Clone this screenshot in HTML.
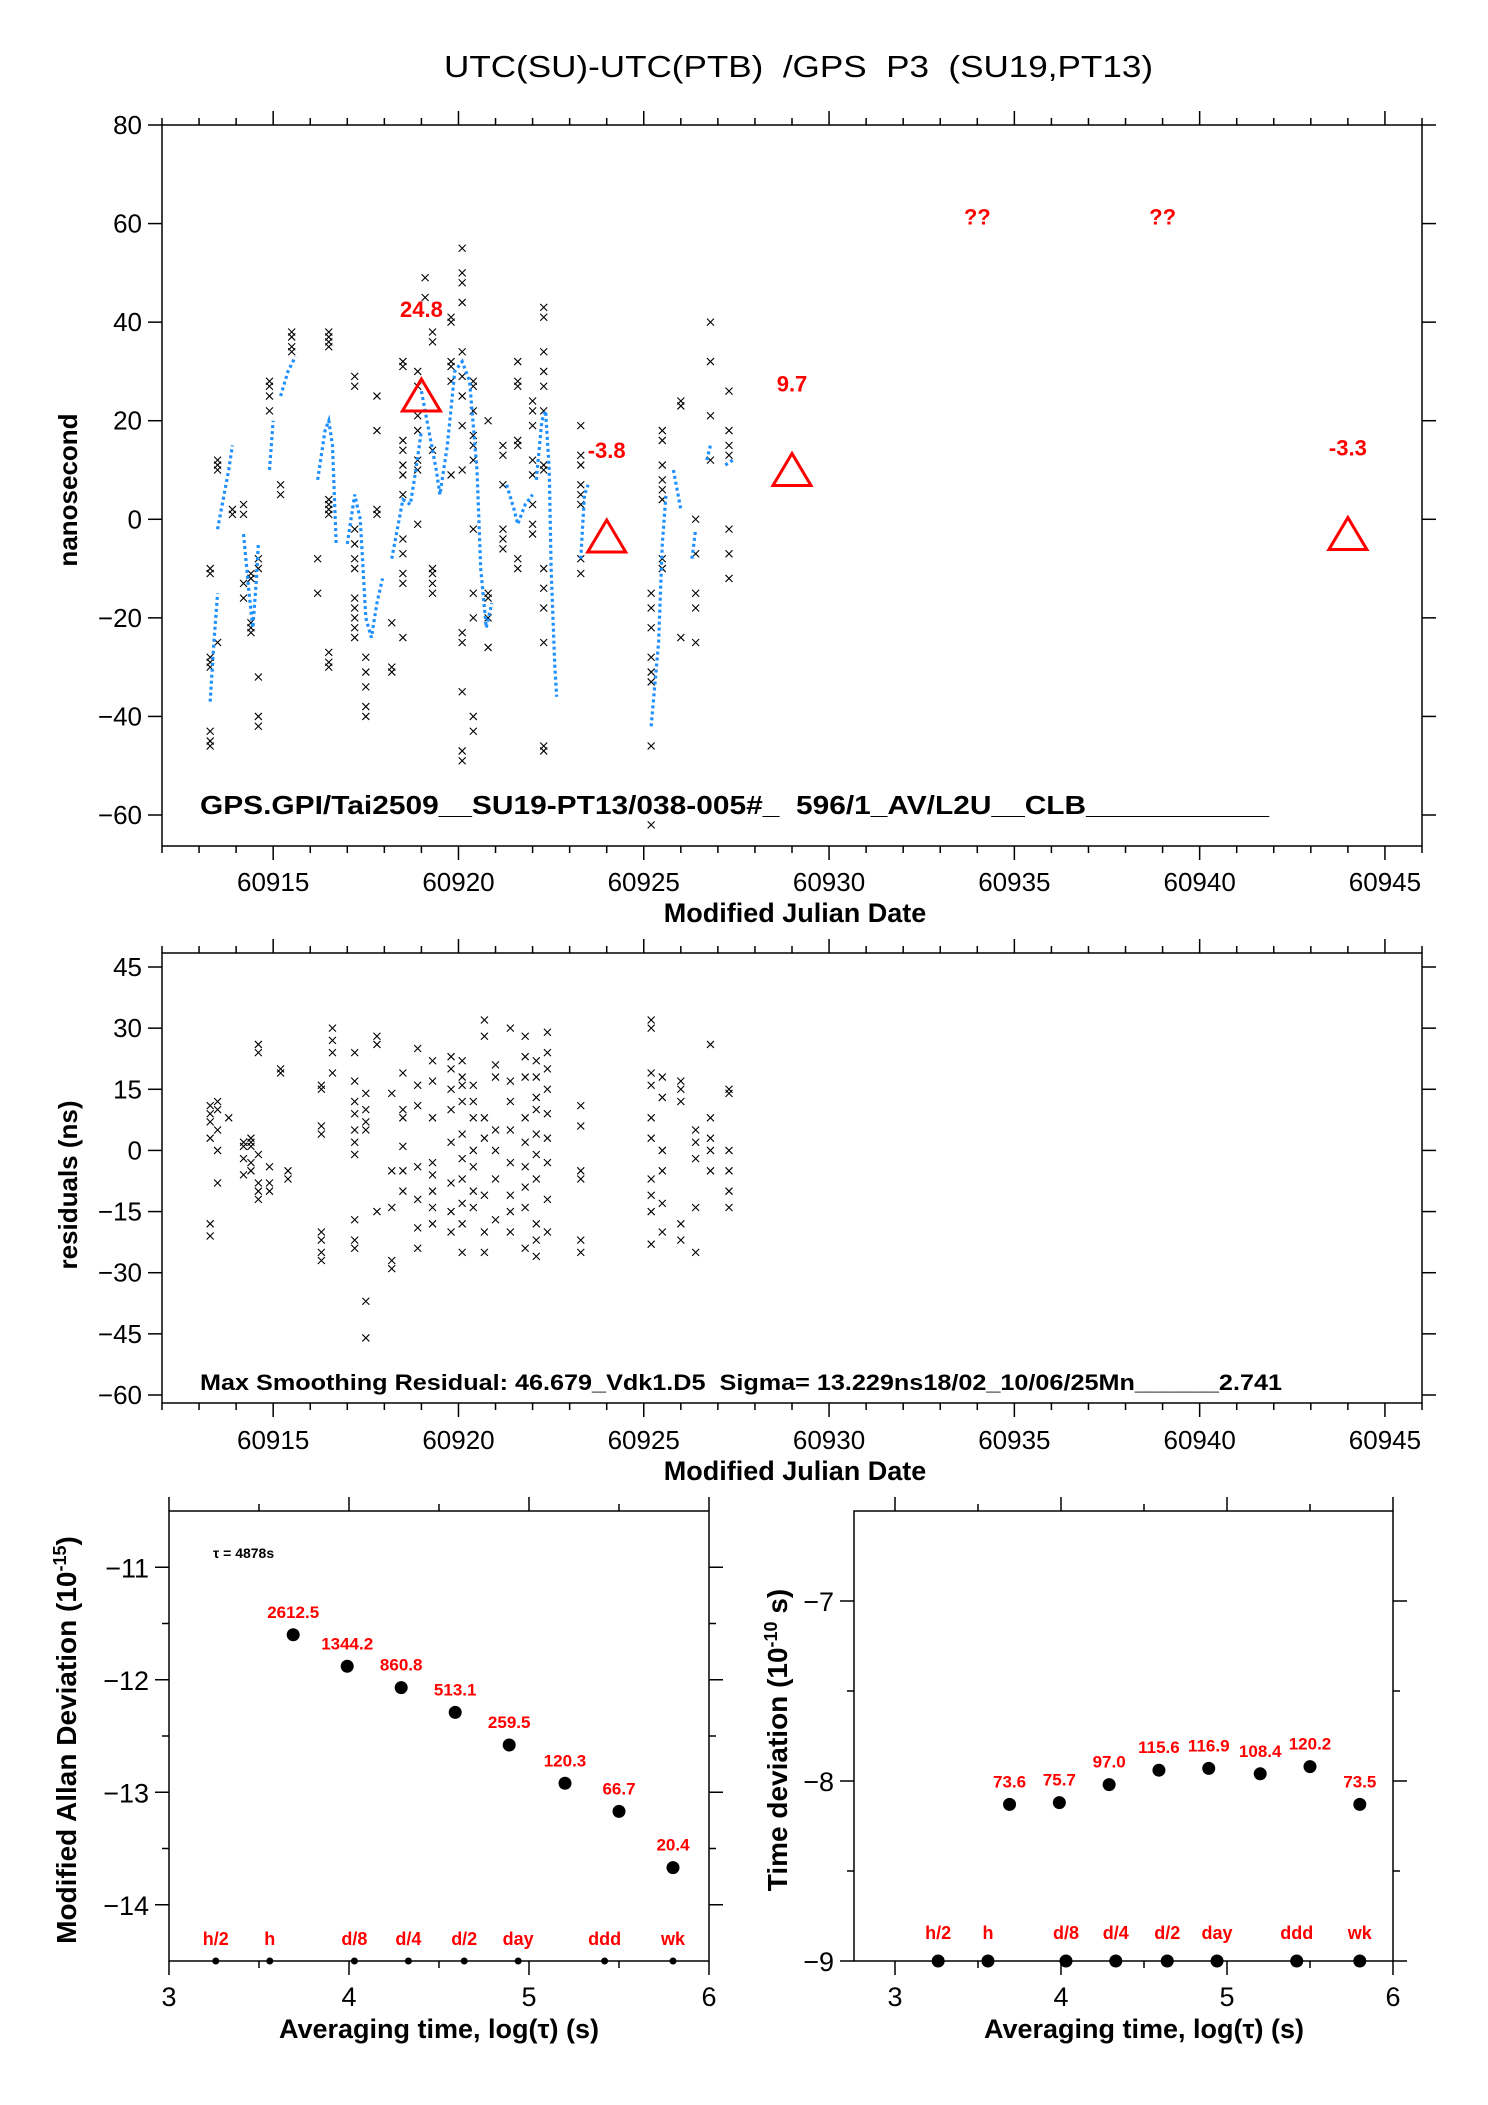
<!DOCTYPE html>
<html><head><meta charset="utf-8"><style>
html,body{margin:0;padding:0;background:#fff;}
svg{display:block;font-family:"Liberation Sans",sans-serif;}
svg text{white-space:pre;}
</style></head><body>
<svg id="fig" width="1488" height="2105" viewBox="0 0 1488 2105" xmlns="http://www.w3.org/2000/svg" xml:space="preserve">
<text x="444" y="77" font-size="31" textLength="709" lengthAdjust="spacingAndGlyphs" fill="#000">UTC(SU)-UTC(PTB)  /GPS  P3  (SU19,PT13)</text>
<g id="top"></g>
<g id="res"></g>
<g id="mdev"></g>
<g id="tdev"></g>
</svg>
<script>
// ---------- DATA ----------
const crossMjd = [60913.3,60913.5,60913.9,60914.2,60914.4,60914.6,60914.9,60915.2,60915.5,60916.2,60916.5,60917.2,60917.5,60917.8,60918.2,60918.5,60918.9,60919.1,60919.3,60919.8,60920.1,60920.4,60920.8,60921.2,60921.6,60922.0,60922.3,60923.3,60925.2,60925.5,60926.0,60926.4,60926.8,60927.3];
const crossVals = [
 [-10,-11,-28,-29,-30,-43,-45,-46],[12,11,10,-25],[1,2],[3,1,-13,-16],[-11,-12,-22,-23,-21],
 [-8,-10,-40,-42,-32],[25,28,27,22],[5,7],[38,37,35,34],[-8,-15],
 [35,36,38,37,3,2,1,4,-27,-29,-30],[29,27,-2,-5,-8,-10,-16,-18,-20,-22,-24],[-28,-31,-34,-38,-40],[25,18,1,2],[-21,-30,-31],
 [31,32,16,14,11,9,5,-4,-7,-11,-13,-24],[30,27,21,18,10,12,-1],[49,45],[38,36,14,-10,-11,-13,-15],[40,41,32,31,28,9],
 [55,50,48,44,34,29,25,19,10,-23,-25,-35,-47,-49],[28,27,22,17,15,12,-2,-15,-20,-40,-43],[20,-15,-16,-20,-26],[15,13,7,-2,-4,-6],[32,28,27,16,15,-8,-10],
 [24,22,19,12,9,3,-1,-3],[43,41,34,30,27,22,11,10,-10,-14,-18,-25,-46,-47],[19,13,11,7,5,3,-8,-11],[-15,-18,-22,-28,-31,-33,-46,-62],[18,16,11,8,6,4,-8,-10],
 [24,23,-24],[0,-7,-15,-18,-25],[40,32,21,12],[18,15,13,-7,-2,26,-12]];
const smoothSegs = [
 [[60913.3,-37],[60913.4,-25],[60913.5,-15]],
 [[60913.5,-2],[60913.8,10],[60913.9,15]],
 [[60914.2,-3],[60914.35,-15],[60914.45,-22],[60914.55,-12],[60914.6,-5]],
 [[60914.9,10],[60915.0,20]],
 [[60915.2,25],[60915.4,30],[60915.6,33]],
 [[60916.2,8],[60916.4,18],[60916.5,20],[60916.6,15],[60916.7,-5]],
 [[60917.0,-5],[60917.2,5],[60917.35,0],[60917.5,-20],[60917.65,-24],[60917.8,-17],[60917.95,-12]],
 [[60918.2,-8],[60918.4,0],[60918.5,4],[60918.7,3],[60918.85,10],[60919.0,18]],
 [[60919.0,26],[60919.2,18],[60919.4,10],[60919.5,5],[60919.7,15],[60919.9,30],[60920.1,32],[60920.3,28],[60920.5,10],[60920.6,-10],[60920.75,-22],[60920.9,-17]],
 [[60921.3,7],[60921.5,2],[60921.6,-1],[60921.8,3],[60922.0,5]],
 [[60922.1,8],[60922.25,20],[60922.35,22],[60922.45,10],[60922.5,-10],[60922.6,-30],[60922.65,-36]],
 [[60923.3,-8],[60923.4,5],[60923.5,7]],
 [[60925.2,-42],[60925.4,-25],[60925.5,-5],[60925.6,5]],
 [[60925.8,10],[60926.0,2]],
 [[60926.3,-8],[60926.4,-2]],
 [[60926.7,12],[60926.8,15]],
 [[60927.2,11],[60927.4,12]]];
const triMjd = [60919,60924,60929,60944];
const triVals = [24.8,-3.8,9.7,-3.3];
const triLabels = ["24.8","-3.8","9.7","-3.3"];
const qqMjd = [60934,60939];
const topYTicks = [80,60,40,20,0,-20,-40,-60];
const xTicks = [60915,60920,60925,60930,60935,60940,60945];

const resMjd = [60913.3,60913.5,60913.8,60914.2,60914.4,60914.6,60914.9,60915.2,60915.4,60916.3,60916.6,60917.2,60917.5,60917.8,60918.2,60918.5,60918.9,60919.3,60919.8,60920.1,60920.4,60920.7,60921.0,60921.4,60921.8,60922.1,60922.4,60923.3,60925.2,60925.5,60926.0,60926.4,60926.8,60927.3];
const resVals = [
 [11,9,7,3,-18,-21],[12,10,5,0,-8],[8],[2,1,-2,-6],[3,1,2,-3,-5],[26,24,-1,-8,-10,-12],[-4,-8,-10],[20,19],[-5,-7],
 [16,15,6,4,-20,-22,-25,-27],[30,27,24,19],[24,17,12,9,5,2,-1,-17,-22,-24],[14,10,7,5,-37,-46],[28,26,-15],[14,-5,-14,-27,-29],
 [19,10,8,1,-5,-10],[25,16,11,-4,-12,-19,-24],[22,17,8,-3,-6,-10,-14,-18],[23,20,15,10,2,-8,-15,-20],[22,18,16,12,4,-2,-7,-13,-18,-25],
 [16,12,8,0,-4,-10,-14],[32,28,8,3,-11,-20,-25],[21,18,5,0,-7,-17],[30,17,12,5,-3,-11,-15,-20],[28,23,18,8,2,-4,-9,-14,-24],
 [22,18,13,10,4,-1,-7,-18,-22,-26],[29,24,20,15,9,3,-3,-12,-20],[11,6,-5,-7,-22,-25],[30,32,19,16,8,3,-7,-11,-15,-23],[18,13,0,-5,-13,-20],
 [17,15,12,-18,-22],[5,2,-2,-14,-25],[26,8,3,0,-5],[15,14,0,-5,-10,-14]];
const resYTicks = [45,30,15,0,-15,-30,-45,-60];

const devTau = [3.69,3.99,4.29,4.59,4.89,5.2,5.5,5.8];
const mdevVals = [-11.6,-11.88,-12.07,-12.29,-12.58,-12.92,-13.17,-13.67];
const mdevLabels = ["2612.5","1344.2","860.8","513.1","259.5","120.3","66.7","20.4"];
const tdevVals = [-8.13,-8.12,-8.02,-7.94,-7.93,-7.96,-7.92,-8.13];
const tdevLabels = ["73.6","75.7","97.0","115.6","116.9","108.4","120.2","73.5"];
const markTau = [3.26,3.56,4.03,4.33,4.64,4.94,5.42,5.8];
const markLabels = ["h/2","h","d/8","d/4","d/2","day","ddd","wk"];
const mdevYTicks = [-11,-12,-13,-14];
const tdevYTicks = [-7,-8,-9];
const tauTicks = [3,4,5,6];

// ---------- HELPERS ----------
const NS='http://www.w3.org/2000/svg';
function mk(parent,tag,attrs,text){const e=document.createElementNS(NS,tag);for(const k in attrs)e.setAttribute(k,attrs[k]);if(text!==undefined)e.textContent=text;parent.appendChild(e);return e;}
function lin(d0,d1,p0,p1){return v=>p0+(v-d0)*(p1-p0)/(d1-d0);}
function cross(g,x,y){const p=mk(g,'path',{d:`M${x-3.5},${y-3.5}L${x+3.5},${y+3.5}M${x-3.5},${y+3.5}L${x+3.5},${y-3.5}`,stroke:'#000','stroke-width':1.1,fill:'none'});

}

// ---------- TOP PANEL ----------
(function(){
 const g=document.getElementById('top');
 const L=162,R=1422,T=125,B=846;
 const X=lin(60912,60946,L,R), Y=lin(80,-60,125,815);
 const fr=mk(g,'rect',{x:L,y:T,width:R-L,height:B-T,fill:'none',stroke:'#000','stroke-width':1.5});
 
 for(let d=60912;d<=60946;d++){const maj=(d%5===0);const len=maj?14:7;
  mk(g,'line',{x1:X(d),x2:X(d),y1:T,y2:T-len,stroke:'#000','stroke-width':1.5});
  mk(g,'line',{x1:X(d),x2:X(d),y1:B,y2:B+len,stroke:'#000','stroke-width':1.5});}
 xTicks.forEach(t=>{const e=mk(g,'text',{x:X(t),y:891,'font-size':26,'text-anchor':'middle'},String(t));
  });
 topYTicks.forEach(t=>{const y=Y(t);
  mk(g,'line',{x1:L-14,x2:L,y1:y,y2:y,stroke:'#000','stroke-width':1.5});
  mk(g,'line',{x1:R,x2:R+14,y1:y,y2:y,stroke:'#000','stroke-width':1.5});
  const e=mk(g,'text',{x:L-20,y:y+9,'font-size':26,'text-anchor':'end'},t<0?'\u2212'+(-t):String(t));
  });
 const xt=mk(g,'text',{x:795,y:922,'font-size':27,'font-weight':'bold','text-anchor':'middle'},'Modified Julian Date');
 
 const yt=mk(g,'text',{x:0,y:0,'font-size':26,'font-weight':'bold','text-anchor':'middle',transform:'translate(77,490) rotate(-90)'},'nanosecond');
 
 crossMjd.forEach((m,i)=>crossVals[i].forEach(v=>cross(g,X(m),Y(v))));
 smoothSegs.forEach(seg=>{const p=mk(g,'polyline',{points:seg.map(q=>X(q[0])+','+Y(q[1])).join(' '),fill:'none',stroke:'#1e90ff','stroke-width':3.2,'stroke-dasharray':'3 3'});
  });
 triMjd.forEach((m,i)=>{const x=X(m),y=Y(triVals[i]);
  const t=mk(g,'polygon',{points:`${x},${y-18} ${x-19},${y+14} ${x+19},${y+14}`,fill:'none',stroke:'#f00','stroke-width':3});
  
  const lb=mk(g,'text',{x:x,y:y-80,'font-size':22,'font-weight':'bold',fill:'#f00','text-anchor':'middle'},triLabels[i]);
  });
 qqMjd.forEach(m=>{const e=mk(g,'text',{x:X(m),y:Y(60)+1,'font-size':22,'font-weight':'bold',fill:'#f00','text-anchor':'middle'},'??');
  });
 const nt=mk(g,'text',{x:200,y:814,'font-size':26,'font-weight':'bold',textLength:1069,lengthAdjust:'spacingAndGlyphs'},'GPS.GPI/Tai2509__SU19-PT13/038-005#_  596/1_AV/L2U__CLB___________');
 
})();

// ---------- RESIDUAL PANEL ----------
(function(){
 const g=document.getElementById('res');
 const L=162,R=1422,T=953,B=1403;
 const X=lin(60912,60946,L,R), Y=lin(45,-60,967,1395);
 const fr=mk(g,'rect',{x:L,y:T,width:R-L,height:B-T,fill:'none',stroke:'#000','stroke-width':1.5});
 
 for(let d=60912;d<=60946;d++){const maj=(d%5===0);const len=maj?14:7;
  mk(g,'line',{x1:X(d),x2:X(d),y1:T,y2:T-len,stroke:'#000','stroke-width':1.5});
  mk(g,'line',{x1:X(d),x2:X(d),y1:B,y2:B+len,stroke:'#000','stroke-width':1.5});}
 xTicks.forEach(t=>{const e=mk(g,'text',{x:X(t),y:1449,'font-size':26,'text-anchor':'middle'},String(t));
  });
 resYTicks.forEach(t=>{const y=Y(t);
  mk(g,'line',{x1:L-14,x2:L,y1:y,y2:y,stroke:'#000','stroke-width':1.5});
  mk(g,'line',{x1:R,x2:R+14,y1:y,y2:y,stroke:'#000','stroke-width':1.5});
  const e=mk(g,'text',{x:L-20,y:y+9,'font-size':26,'text-anchor':'end'},t<0?'\u2212'+(-t):String(t));
  });
 const xt=mk(g,'text',{x:795,y:1480,'font-size':27,'font-weight':'bold','text-anchor':'middle'},'Modified Julian Date');
 
 const yt=mk(g,'text',{x:0,y:0,'font-size':26,'font-weight':'bold','text-anchor':'middle',transform:'translate(77,1185) rotate(-90)'},'residuals (ns)');
 
 resMjd.forEach((m,i)=>resVals[i].forEach(v=>cross(g,X(m),Y(v))));
 const nt=mk(g,'text',{x:200,y:1390,'font-size':22,'font-weight':'bold',textLength:1082,lengthAdjust:'spacingAndGlyphs'},'Max Smoothing Residual: 46.679_Vdk1.D5  Sigma= 13.229ns18/02_10/06/25Mn______2.741');
 
})();

// ---------- DEVIATION PANELS ----------
function devPanel(id,L,R,X0,X1,yMin,yMax,yTicks,yMinor,vals,labels,yTitle,yTitleX,bigDots,titleSup){
 const g=document.getElementById(id);
 const T=1511,B=1961;
 const X=lin(3,6,X0,X1), Y=lin(yMax,yMin,T,B);
 const fr=mk(g,'rect',{x:L,y:T,width:R-L,height:B-T,fill:'none',stroke:'#000','stroke-width':1.5});
 
 for(let t=3;t<=6.001;t+=0.5){const maj=Math.abs(t-Math.round(t))<1e-6;const len=maj?14:7;
  mk(g,'line',{x1:X(t),x2:X(t),y1:T,y2:T-len,stroke:'#000','stroke-width':1.5});
  mk(g,'line',{x1:X(t),x2:X(t),y1:B,y2:B+len,stroke:'#000','stroke-width':1.5});}
 tauTicks.forEach(t=>{const e=mk(g,'text',{x:X(t),y:2006,'font-size':27,'text-anchor':'middle'},String(t));
  });
 yTicks.forEach(t=>{const y=Y(t);
  mk(g,'line',{x1:L-14,x2:L,y1:y,y2:y,stroke:'#000','stroke-width':1.5});
  mk(g,'line',{x1:R,x2:R+14,y1:y,y2:y,stroke:'#000','stroke-width':1.5});
  const e=mk(g,'text',{x:L-20,y:y+10,'font-size':27,'text-anchor':'end'},'\u2212'+(-t));
  });
 yMinor.forEach(t=>{const y=Y(t);
  mk(g,'line',{x1:L-7,x2:L,y1:y,y2:y,stroke:'#000','stroke-width':1.5});
  mk(g,'line',{x1:R,x2:R+7,y1:y,y2:y,stroke:'#000','stroke-width':1.5});});
 const xt=mk(g,'text',{x:(X0+X1)/2,y:2038,'font-size':27,'font-weight':'bold','text-anchor':'middle'},'Averaging time, log(\u03c4) (s)');
 
 const yt=mk(g,'text',{x:0,y:0,'font-size':28,'font-weight':'bold','text-anchor':'middle',transform:`translate(${yTitleX},1740) rotate(-90)`});
 
 yt.appendChild(document.createTextNode(yTitle[0]));
 const ts=mk(yt,'tspan',{dy:-10,'font-size':18},titleSup);
 const tr=mk(yt,'tspan',{dy:10},yTitle[1]);
 devTau.forEach((t,i)=>{const x=X(t),y=Y(vals[i]);
  const c=mk(g,'circle',{cx:x,cy:y,r:6.5,fill:'#000'});
  
  const lb=mk(g,'text',{x:x,y:y-17,'font-size':17,'font-weight':'bold',fill:'#f00','text-anchor':'middle'},labels[i]);
  });
 markTau.forEach((t,i)=>{const x=X(t);
  const c=mk(g,'circle',{cx:x,cy:B,r:bigDots?6.5:3.5,fill:'#000'});
  
  const lb=mk(g,'text',{x:x,y:B-(bigDots?22:16),'font-size':18,'font-weight':'bold',fill:'#f00','text-anchor':'middle'},markLabels[i]);
  });
 return g;
}
const gm=devPanel('mdev',169,709,169,709,-14.5,-10.5,mdevYTicks,[-11.5,-12.5,-13.5],mdevVals,mdevLabels,['Modified Allan Deviation (10',')'],76,false,'-15');
const tauNote=mk(gm,'text',{x:213,y:1558,'font-size':14,'font-weight':'bold'},'\u03c4 = 4878s');


devPanel('tdev',854,1393,895,1393,-9,-6.5,tdevYTicks,[-7.5,-8.5],tdevVals,tdevLabels,['Time deviation (10',' s)'],787,true,'-10');
</script>
</body></html>
